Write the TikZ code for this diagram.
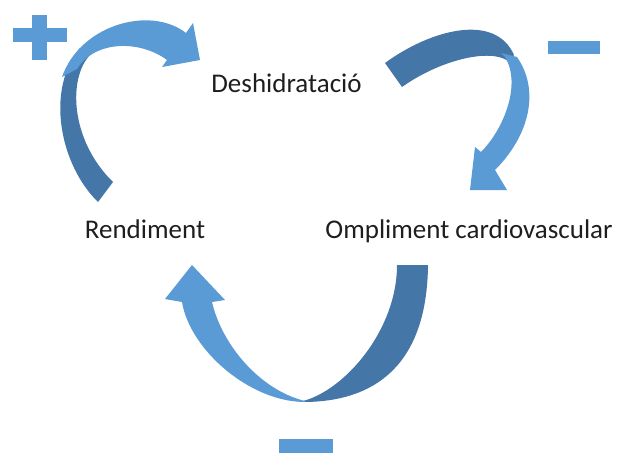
\documentclass[tikz,border=0pt]{standalone}
\usepackage{fontspec}
\setmainfont{Carlito}
\definecolor{lightblue}{RGB}{91,155,213}
\definecolor{darkblue}{RGB}{68,118,168}
\definecolor{txt}{RGB}{30,30,30}
\begin{document}
\begin{tikzpicture}[x=1pt,y=-1pt,
  lbl/.style={font=\fontsize{27}{32}\selectfont, text=txt, inner sep=0pt, anchor=base},
  sign/.style={fill=lightblue},
  lightpart/.style={fill=lightblue},
  darkpart/.style={fill=darkblue}]
\useasboundingbox (0,0) rectangle (619,455);

% arrow 1 (top left)
\fill[darkpart] (98,202) .. controls (60,165) and (45,90) .. (80,48)
  -- (90,55) .. controls (68,78) and (70,140) .. (113,182) -- cycle;
\fill[lightpart] (62,77) .. controls (80,25) and (150,5) .. (186,33)
  -- (193,23) -- (200,60) -- (162,67)
  -- (167,60) .. controls (140,40) and (95,40) .. (77,69) -- cycle;

% arrow 2 (top right)
\fill[darkpart] (385,63) .. controls (430,30) and (495,12) .. (514,55)
  -- (508,61) .. controls (490,48) and (440,60) .. (402,87) -- cycle;
\fill[lightpart] (501,53) -- (517,57) .. controls (540,90) and (530,135) .. (495,170)
  -- (507,190) -- (470,190) -- (475,147)
  -- (481,152) .. controls (503,130) and (522,85) .. (505,57) -- cycle;

% arrow 3 (bottom)
\fill[darkpart] (428,265) .. controls (427,365) and (375,402) .. (303,402)
  -- (303,401) .. controls (345,390) and (397,330) .. (397,265) -- cycle;
\fill[lightpart] (305,402) .. controls (250,402) and (190,350) .. (182,302)
  -- (165,299) -- (192,265) -- (225,300)
  -- (212,302) .. controls (222,345) and (260,390) .. (305,401) -- cycle;

% signs
\fill[sign] (13,28) rectangle (67,42);
\fill[sign] (32,15) rectangle (47,60);
\fill[sign] (548,41) rectangle (600,54);
\fill[sign] (279,439) rectangle (333,453);

% labels
\node[lbl] (desh) at (286.5,92) {Deshidratació};
\node[lbl] (rend) at (145,238) {Rendiment};
\node[lbl] (ompl) at (469,238) {Ompliment cardiovascular};
\end{tikzpicture}
\end{document}
